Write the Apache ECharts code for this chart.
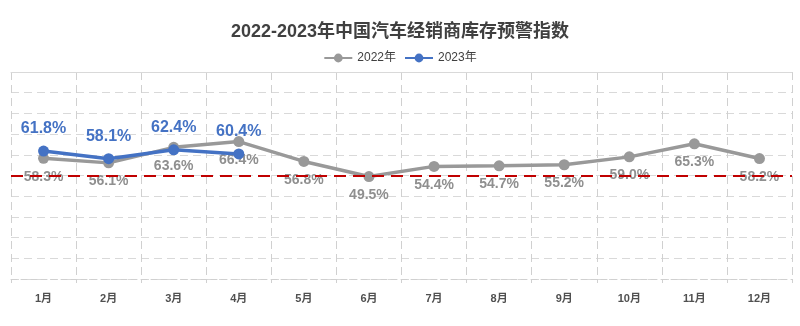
<!DOCTYPE html>
<html>
<head>
<meta charset="utf-8">
<script src="https://cdn.jsdelivr.net/npm/echarts@6/dist/echarts.min.js"></script>
<style>
  html, body { margin: 0; padding: 0; background: #fff; }
  #chart { width: 800px; height: 326px; }
</style>
</head>
<body>
<div id="chart"></div>
<script>
// Months on the category axis
const months = ['1月', '2月', '3月', '4月', '5月', '6月', '7月', '8月', '9月', '10月', '11月', '12月'];
// Inventory warning index, percent
const index2022 = [58.3, 56.1, 63.6, 66.4, 56.8, 49.5, 54.4, 54.7, 55.2, 59.0, 65.3, 58.2];
const index2023 = [61.8, 58.1, 62.4, 60.4];
// Warning threshold
const threshold = 50;

const labelFont = "'Liberation Sans Narrow', 'Arial Narrow', 'Liberation Sans', sans-serif";
const cjk = "'Liberation Sans', 'Noto Sans CJK SC', sans-serif";

const chart = echarts.init(document.getElementById('chart'));
chart.setOption({
  animation: false,
  backgroundColor: '#ffffff',
  title: {
    text: '2022-2023年中国汽车经销商库存预警指数',
    left: 'center',
    top: 18,
    textStyle: { fontFamily: cjk, fontSize: 18, fontWeight: 'bold', color: '#404040' }
  },
  legend: {
    top: 47,
    left: 'center',
    itemWidth: 28,
    itemHeight: 11,
    itemGap: 8,
    textStyle: { fontFamily: cjk, fontSize: 12, color: '#404040' },
    data: ['2022年', '2023年']
  },
  grid: { left: 11, right: 8, top: 72, bottom: 47 },
  xAxis: [{
    type: 'category',
    data: months,
    boundaryGap: true,
    axisLine: { lineStyle: { color: '#d0d0d0', type: [6, 4], width: 1 } },
    axisTick: { show: true, length: 4, lineStyle: { color: '#d0d0d0' } },
    axisLabel: { margin: 14, fontFamily: cjk, fontSize: 11, fontWeight: 'bold', color: '#505050' },
    splitLine: { show: true, lineStyle: { color: '#d0d0d0', type: [8, 5] } }
  }, {
    type: 'category',
    data: months,
    position: 'top',
    axisLine: { lineStyle: { color: '#d9d9d9', width: 1 } },
    axisTick: { show: false },
    axisLabel: { show: false }
  }],
  yAxis: {
    type: 'value',
    min: 0,
    max: 100,
    interval: 10,
    axisLine: { show: false },
    axisTick: { show: false },
    axisLabel: { show: false },
    splitLine: { show: true, lineStyle: { color: '#d9d9d9', type: [8, 5] } }
  },
  series: [{
    name: '2022年',
    type: 'line',
    data: index2022,
    symbol: 'circle',
    symbolSize: 11,
    lineStyle: { color: '#999999', width: 3.5 },
    itemStyle: { color: '#999999' },
    label: {
      show: true,
      position: 'bottom',
      distance: 6,
      formatter: p => p.value.toFixed(1) + '%',
      fontFamily: labelFont,
      fontSize: 14,
      fontWeight: 'bold',
      color: '#8f8f8f'
    },
    markLine: {
      silent: true,
      symbol: 'none',
      label: { show: false },
      lineStyle: { color: '#c00000', type: [12, 7], width: 2 },
      data: [{ yAxis: threshold }]
    },
    z: 2
  }, {
    name: '2023年',
    type: 'line',
    data: index2023,
    symbol: 'circle',
    symbolSize: 11,
    lineStyle: { color: '#4472c4', width: 3.5 },
    itemStyle: { color: '#4472c4' },
    label: {
      show: true,
      position: 'top',
      distance: 9,
      formatter: p => p.value.toFixed(1) + '%',
      fontFamily: labelFont,
      fontSize: 16,
      fontWeight: 'bold',
      color: '#4472c4'
    },
    z: 3
  }]
});
</script>
</body>
</html>
